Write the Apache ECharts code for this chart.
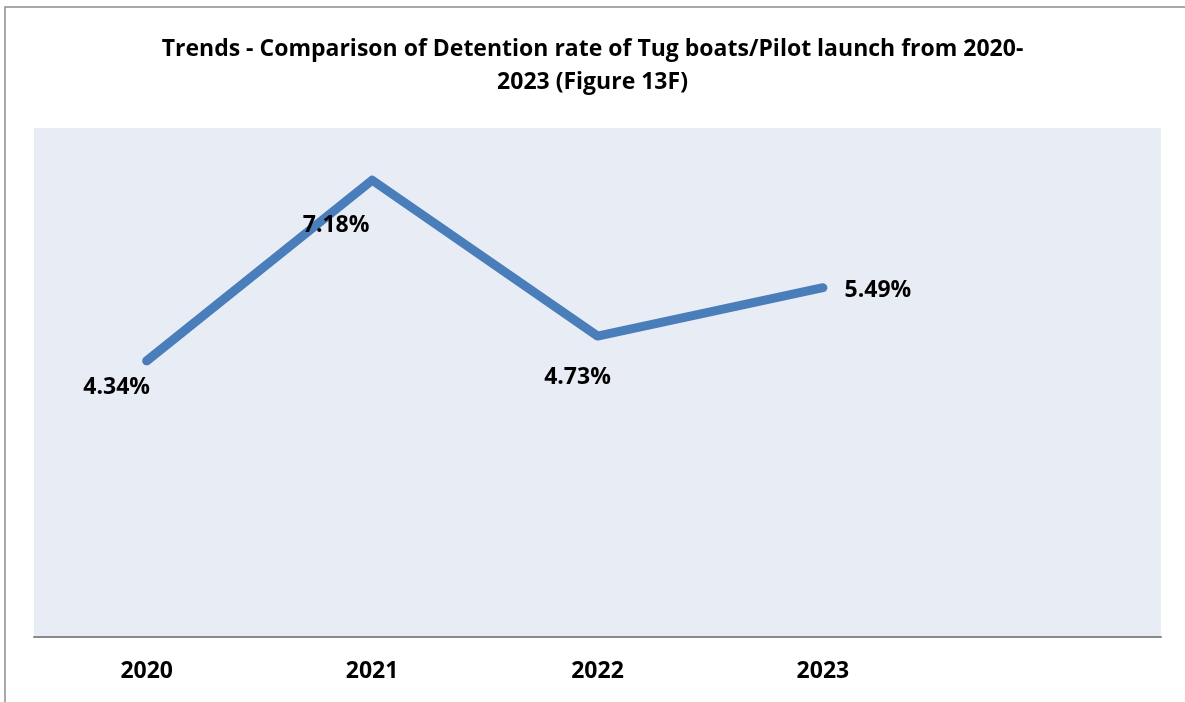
<!DOCTYPE html>
<html>
<head>
<meta charset="utf-8">
<script src="https://cdn.jsdelivr.net/npm/echarts@6/dist/echarts.min.js"></script>
<style>
  html, body { margin: 0; padding: 0; background: #fff; }
  #chart { width: 1185px; height: 702px; }
</style>
</head>
<body>
<div id="chart"></div>
<script>
// Detention rate of tug boats / pilot launches by year (%)
const years = ['2020', '2021', '2022', '2023', ''];
const detentionRate = [4.34, 7.18, 4.73, 5.49];
// Label placement around each point: [dx, dy]
const labelOffsets = [[-30, 27], [-36, 45], [-20, 41], [55, 3]];

const FONT = '"Open Sans", Lato, sans-serif';

const chart = echarts.init(document.getElementById('chart'));
chart.setOption({
  backgroundColor: '#ffffff',
  animation: false,
  title: {
    text: 'Trends - Comparison of Detention rate of Tug boats/Pilot launch from 2020-\n2023 (Figure 13F)',
    left: 'center',
    top: 28,
    textStyle: { fontFamily: FONT, fontWeight: 'bold', fontSize: 23, lineHeight: 33, color: '#000' }
  },
  graphic: [{
    type: 'rect',
    shape: { x: 5, y: 7, width: 1200, height: 720 },
    style: { fill: 'none', stroke: '#8c8c8c', lineWidth: 1.5 },
    silent: true
  }],
  grid: {
    left: 34, right: 24, top: 128, bottom: 65,
    show: true, backgroundColor: '#E8ECF4', borderWidth: 0
  },
  xAxis: {
    type: 'category',
    data: years,
    boundaryGap: true,
    axisLine: { lineStyle: { color: '#8a8a8a', width: 2 } },
    axisTick: { show: false },
    axisLabel: { margin: 23, fontFamily: FONT, fontWeight: 'bold', fontSize: 23, color: '#000' }
  },
  yAxis: {
    type: 'value', min: 0, max: 8, interval: 1,
    show: false, splitLine: { show: false }
  },
  series: [{
    type: 'line',
    data: detentionRate.map((v, i) => ({
      value: v,
      label: { offset: labelOffsets[i] }
    })),
    symbol: 'circle',
    symbolSize: 1,
    itemStyle: { color: '#4A7EBB' },
    lineStyle: { color: '#4A7EBB', width: 9, cap: 'round', join: 'round' },
    label: {
      show: true,
      position: 'inside',
      formatter: p => p.value.toFixed(2) + '%',
      fontFamily: FONT, fontWeight: 'bold', fontSize: 23, color: '#000'
    }
  }]
});
</script>
</body>
</html>
